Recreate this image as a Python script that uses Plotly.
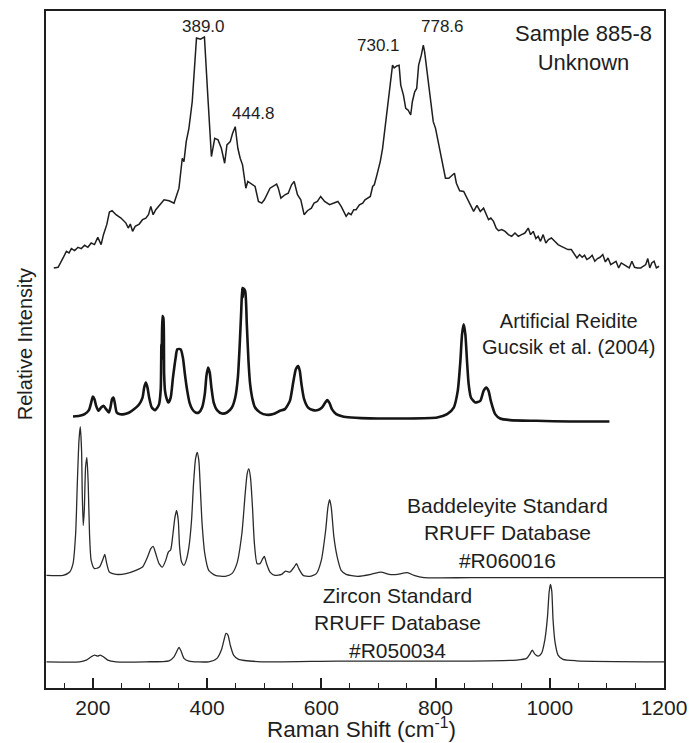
import plotly.graph_objects as go

# ---------------- data (Raman shift in cm-1, relative intensity with vertical offsets) -------------
sample_x = [131.6, 139.2, 147.9, 153.7, 158.3, 162.4, 168.2, 174.0, 179.8, 185.6, 191.3, 197.1, 202.9,
            208.7, 214.5, 218.6, 224.4, 229.0, 233.7, 240.6, 249.3, 258.0, 262.0, 265.6, 269.6, 274.2,
            281.2, 287.0, 292.8, 297.4, 301.5, 305.6, 310.2, 317.1, 324.7, 333.4, 342.1, 345.0, 350.8,
            356.6, 359.5, 363.5, 368.2, 374.0, 378.0, 381.5, 388.5, 395.4, 401.2, 407.6, 413.4, 419.2,
            425.0, 430.8, 434.8, 440.6, 444.7, 449.3, 453.9, 458.0, 462.1, 465.6, 467.9, 471.3, 477.1,
            484.1, 489.9, 495.7, 500.3, 504.4, 510.2, 521.8, 524.7, 529.3, 536.3, 542.1, 547.9, 552.5,
            558.3, 564.1, 569.9, 575.7, 582.6, 587.3, 593.1, 598.9, 605.8, 614.5, 623.2,
            629.0, 634.8, 639.4, 643.5, 647.6, 652.2, 656.8, 660.9, 666.7, 672.5, 676.5, 682.3, 685.8,
            689.9, 692.8, 697.4, 703.2, 707.3, 713.1, 717.1, 721.8, 724.7, 727.6, 732.2, 736.2, 739.1,
            743.8, 747.8, 751.9, 756.5, 759.4, 763.5, 767.0, 770.4, 775.1, 778.6, 780.9, 785.5, 790.2,
            796.0, 800.0, 805.8, 811.6, 817.4, 823.2, 829.0, 833.1, 836.5, 842.3, 849.3, 855.1, 860.9,
            866.7, 872.5, 878.3, 884.1, 888.7, 892.8, 896.8, 901.5, 906.1, 910.2, 916.0, 921.8, 927.6,
            933.3, 939.1, 944.9, 950.7, 956.5, 962.3, 966.4, 971.0, 975.7, 979.7, 983.8, 988.4, 993.1,
            997.7, 1002.9, 1008.7, 1014.5, 1020.3, 1026.1, 1031.9, 1037.7, 1043.5, 1047.6, 1052.2,
            1056.8, 1060.9, 1064.9, 1069.6, 1074.2, 1078.9, 1083.5, 1088.1, 1092.8, 1097.4, 1102.0,
            1106.7, 1111.3, 1116.0, 1120.6, 1125.2, 1129.9, 1134.5, 1139.1, 1143.8, 1148.4, 1153.6,
            1159.4, 1163.5, 1168.1, 1171.6, 1175.1, 1178.6, 1182.6, 1186.7, 1191.3]
sample_y = [421.3, 422.0, 431.3, 438.0, 436.3, 440.7, 438.7, 442.0, 440.7, 444.0, 442.0, 446.3, 444.7,
            452.0, 444.7, 454.7, 464.7, 477.3, 478.7, 474.7, 471.3, 466.3, 461.3, 465.3, 458.0, 463.0,
            465.3, 469.7, 471.3, 474.7, 483.0, 474.7, 479.7, 484.0, 489.7, 488.7, 486.3, 491.3, 501.3,
            531.3, 528.0, 548.0, 561.3, 588.0, 621.3, 652.0, 650.7, 653.0, 594.7, 533.0, 551.3, 549.7,
            541.3, 526.3, 544.7, 548.0, 556.3, 563.0, 541.3, 531.3, 524.7, 511.3, 501.3, 508.0, 505.3,
            503.0, 488.0, 486.3, 489.7, 494.7, 501.3, 505.3, 501.3, 491.3, 494.7, 496.3, 504.7, 508.0,
            494.7, 489.7, 474.7, 478.7, 481.3, 486.3, 488.0, 493.0, 488.0, 484.7, 486.3,
            488.0, 483.0, 478.0, 473.0, 476.3, 474.7, 479.7, 479.7, 484.7, 486.3, 489.7, 491.3, 493.0,
            503.0, 504.7, 514.7, 528.0, 541.3, 568.0, 588.0, 611.3, 624.7, 622.0, 624.0, 624.7, 604.7,
            594.7, 581.3, 579.7, 574.7, 588.0, 598.0, 601.3, 624.7, 634.7, 644.7, 638.0, 618.0, 594.7,
            568.0, 561.3, 544.7, 531.3, 511.3, 511.3, 514.7, 516.3, 506.3, 498.7, 498.0, 491.3, 484.7,
            478.0, 484.0, 478.0, 481.3, 474.7, 469.7, 471.3, 468.0, 461.3, 458.7, 459.7, 458.0, 454.7,
            453.0, 456.3, 453.0, 454.7, 456.3, 461.3, 454.7, 458.0, 450.7, 453.0, 448.0, 454.7, 446.3,
            449.7, 451.3, 448.0, 444.7, 443.0, 441.3, 439.7, 439.7, 434.7, 431.3, 434.7,
            432.0, 434.0, 429.7, 431.3, 434.0, 428.0, 430.7, 432.0, 434.7, 427.3, 431.3,
            424.7, 426.3, 428.0, 421.3, 426.3, 424.7, 423.0, 421.3, 428.0, 422.0, 421.3,
            421.3, 423.0, 424.7, 430.7, 421.3, 426.3, 428.0, 421.3, 423.0]

reidite_x = [165.3, 176.9, 185.6, 193.1, 197.1, 200.0, 202.9, 205.8, 209.9, 214.5, 218.6, 223.2, 227.9,
             230.8, 233.7, 236.0, 238.3, 241.8, 246.4, 255.1, 263.8, 272.5, 281.2, 287.0, 289.9, 292.8,
             295.7, 298.6, 303.2, 309.0, 313.1, 316.0, 318.9, 320.0, 320.8, 321.8, 323.5, 324.8, 326.4,
             328.7, 332.2, 336.3, 340.3, 345.0, 347.9, 353.7, 357.7, 361.2, 365.3, 369.3, 374.0, 379.8,
             385.6, 391.3, 396.0, 398.9, 401.8, 404.7, 407.6, 411.6, 417.4, 426.1, 434.8, 443.5, 449.3,
             453.9, 456.9, 459.8, 461.5, 462.5, 463.5, 466.7, 469.6, 472.5, 475.4, 479.5, 484.1, 492.8,
             504.4, 516.0, 527.6, 536.3, 545.0, 550.8, 555.4, 559.5, 562.4, 565.3, 569.9, 576.9, 585.6,
             594.2, 601.2, 607.0, 610.5, 614.0, 618.6, 626.1, 637.7, 652.2, 669.6, 698.6, 745.0, 802.9,
             820.3, 831.9, 838.9, 843.5, 846.4, 849.3, 852.2, 855.1, 858.0, 862.0, 869.6, 878.3, 884.1,
             888.7, 892.8, 896.8, 904.4, 913.1, 930.4, 976.8, 1034.8, 1104.4]
reidite_y = [272.3, 273.0, 274.7, 278.7, 286.3, 292.3, 289.7, 283.0, 278.0, 281.3, 283.0, 279.7, 276.3,
             281.3, 289.7, 291.3, 286.3, 276.3, 274.7, 274.7, 276.3, 279.7, 284.7, 291.3, 301.3, 306.3,
             301.3, 291.3, 281.3, 278.7, 281.3, 284.7, 300.0, 345.0, 330.0, 373.0, 371.0, 315.0, 298.0,
             291.3, 286.3, 291.3, 311.3, 331.3, 339.7, 339.7, 331.3, 314.7, 298.0, 286.3, 279.7, 276.3,
             276.3, 281.3, 294.7, 313.0, 321.3, 316.3, 301.3, 286.3, 278.7, 275.3, 276.3, 281.3, 291.3,
             311.3, 341.3, 378.0, 401.3, 392.0, 401.0, 398.0, 364.7, 328.0, 304.7, 289.7, 281.3, 276.3,
             274.0, 274.7, 278.0, 279.7, 288.0, 306.3, 319.7, 323.0, 318.0, 304.7, 289.7, 281.3, 278.7,
             278.7, 281.3, 286.3, 288.7, 286.3, 279.7, 274.7, 272.3, 271.3, 270.7, 270.3, 270.3, 271.3,
             274.7, 281.3, 298.0, 328.0, 354.7, 364.7, 354.7, 328.0, 304.7, 291.3, 286.3, 288.0, 298.0,
             301.3, 298.0, 288.0, 274.7, 270.3, 268.7, 268.0, 267.3, 267.3]

badd_x = [118.9, 147.9, 159.5, 165.3, 169.9, 172.8, 175.7, 178.0, 180.3, 181.5, 183.2, 185.0, 187.3,
          189.6, 191.9, 194.2, 197.1, 202.9, 211.6, 217.4, 220.9, 224.4, 229.0, 240.6, 258.0, 275.4,
          287.0, 295.7, 301.5, 305.6, 310.2, 316.0, 321.8, 327.6, 332.2, 336.3, 340.3, 343.8, 346.7,
          349.6, 351.9, 355.4, 359.5, 363.5, 368.2, 372.8, 376.3, 379.8, 382.7, 385.6, 388.4, 391.3,
          396.0, 402.9, 414.5, 431.9, 443.5, 452.2, 460.9, 466.7, 470.2, 473.1, 476.0, 479.5, 482.9,
          487.6, 492.8, 497.4, 500.3, 503.8, 510.2, 518.9, 530.5, 537.4, 545.0, 552.5, 556.6, 560.6,
          568.2, 579.8, 591.3, 600.0, 607.6, 611.6, 614.5, 617.4, 622.1, 627.9, 634.8, 643.5, 663.8,
          687.0, 704.4, 718.9, 733.3, 750.7, 762.3, 779.7, 860.9, 1034.8, 1200.0]
badd_y = [113.0, 113.0, 116.3, 124.7, 154.7, 204.7, 248.0, 262.0, 238.0, 194.7, 163.0, 178.0, 221.3,
          231.3, 204.7, 154.7, 128.0, 119.7, 121.3, 128.7, 134.0, 124.7, 116.3, 114.0, 114.7, 118.0,
          121.3, 131.3, 139.7, 142.0, 134.7, 124.7, 121.3, 128.0, 136.3, 138.7, 154.7, 171.3, 178.0,
          168.0, 141.3, 126.3, 123.0, 128.0, 141.3, 168.0, 204.7, 229.7, 236.3, 228.0, 198.0, 164.7,
          134.7, 118.0, 113.0, 112.0, 114.7, 124.7, 154.7, 194.7, 214.7, 219.7, 211.3, 181.3, 144.7,
          124.7, 124.7, 129.7, 132.0, 125.3, 116.3, 113.0, 114.0, 117.3, 116.3, 121.3, 124.7, 119.7,
          113.0, 112.0, 114.7, 128.0, 158.0, 181.3, 189.0, 181.3, 151.3, 131.3, 118.0, 114.0, 112.0,
          114.0, 116.3, 114.0, 114.0, 115.7, 113.0, 110.7, 110.7, 110.7, 110.7]

zircon_x = [118.9, 176.9, 188.5, 197.1, 202.9, 208.7, 212.8, 218.6, 226.1, 240.6, 292.8, 333.4, 342.1,
            346.7, 350.8, 354.3, 359.5, 368.2, 402.9, 417.4, 425.0, 429.6, 433.1, 436.6, 440.6, 446.4,
            455.1, 495.7, 629.0, 860.9, 942.0, 959.4, 965.2, 969.3, 973.9, 979.7, 985.5, 991.3, 996.0,
            998.9, 1001.2, 1003.5, 1005.8, 1009.3, 1014.5, 1023.2, 1046.4, 1200.0]
zircon_y = [26.3, 26.3, 28.0, 31.3, 33.0, 32.0, 33.0, 31.3, 28.0, 26.3, 26.3, 27.3, 31.3,
            36.3, 40.7, 37.3, 29.7, 27.0, 26.3, 29.7, 38.0, 48.0, 54.7, 53.0, 43.0, 33.0,
            28.7, 26.3, 27.0, 27.0, 28.0, 29.7, 34.0, 38.0, 34.0, 32.0, 34.7, 48.0, 71.3,
            96.3, 104.0, 97.3, 68.0, 45.7, 33.0, 28.7, 27.3, 26.3]

peak_labels = ["389.0", "444.8", "730.1", "778.6"]
peak_label_x = [393.7, 481.2, 700.3, 811.6]
peak_label_y = [663.0, 576.3, 644.7, 663.0]

spectrum_names = ["Sample 885-8<br>Unknown",
                  "Artificial Reidite<br>Gucsik et al. (2004)",
                  "Baddeleyite Standard<br>RRUFF Database<br>#R060016",
                  "Zircon Standard<br>RRUFF Database<br>#R050034"]
name_x = [1058.6, 1032.0, 925.9, 733.4]
name_y = [641.7, 355.5, 155.0, 64.7]
name_size = [22, 20, 21, 21]

# ---------------- figure ----------------
FONT = "Liberation Sans, Arial, sans-serif"
INK = "#1e1e1e"

fig = go.Figure()
fig.add_trace(go.Scatter(x=sample_x, y=sample_y, mode="lines",
                         line=dict(color=INK, width=1.5), hoverinfo="skip"))
fig.add_trace(go.Scatter(x=reidite_x, y=reidite_y, mode="lines", line_shape="spline",
                         line=dict(color="#151515", width=2.6, smoothing=0.6), hoverinfo="skip"))
fig.add_trace(go.Scatter(x=badd_x, y=badd_y, mode="lines", line_shape="spline",
                         line=dict(color="#2a2a2a", width=1.3, smoothing=0.6), hoverinfo="skip"))
fig.add_trace(go.Scatter(x=zircon_x, y=zircon_y, mode="lines", line_shape="spline",
                         line=dict(color="#2a2a2a", width=1.3, smoothing=0.6), hoverinfo="skip"))

for t, x, y in zip(peak_labels, peak_label_x, peak_label_y):
    fig.add_annotation(x=x, y=y, text=t, showarrow=False, xanchor="center", yanchor="middle",
                       font=dict(family=FONT, size=17, color=INK))

for t, x, y, s in zip(spectrum_names, name_x, name_y, name_size):
    fig.add_annotation(x=x, y=y, text=t, showarrow=False, xanchor="center", yanchor="middle",
                       align="center", font=dict(family=FONT, size=s, color=INK))

# axis titles
fig.add_annotation(xref="paper", yref="paper", x=0.51, y=-0.059, text="Raman Shift (cm<sup>-1</sup>)",
                   showarrow=False, xanchor="center", yanchor="middle",
                   font=dict(family=FONT, size=22.5, color=INK))
fig.add_annotation(xref="paper", yref="paper", x=-0.0337, y=0.508, text="Relative Intensity",
                   textangle=-90, showarrow=False, xanchor="center", yanchor="middle",
                   font=dict(family=FONT, size=20, color=INK))

fig.update_layout(
    width=696, height=743,
    margin=dict(l=46, r=26, t=9, b=55),
    paper_bgcolor="white", plot_bgcolor="white",
    showlegend=False,
    font=dict(family=FONT, color=INK),
)
fig.update_xaxes(range=[118, 1200], tick0=0, dtick=200, ticks="inside", ticklen=10, tickwidth=1.5,
                 tickcolor=INK, showline=True, linecolor=INK, linewidth=2, mirror=True,
                 showgrid=False, zeroline=False, tickfont=dict(family=FONT, size=21, color=INK),
                 minor=dict(dtick=50, ticks="inside", ticklen=5, tickwidth=1.2, tickcolor=INK,
                            showgrid=False))
fig.update_yaxes(range=[0, 679], showticklabels=False, ticks="", showline=True, linecolor=INK,
                 linewidth=2, mirror=True, showgrid=False, zeroline=False)

fig.write_html("out.html")
